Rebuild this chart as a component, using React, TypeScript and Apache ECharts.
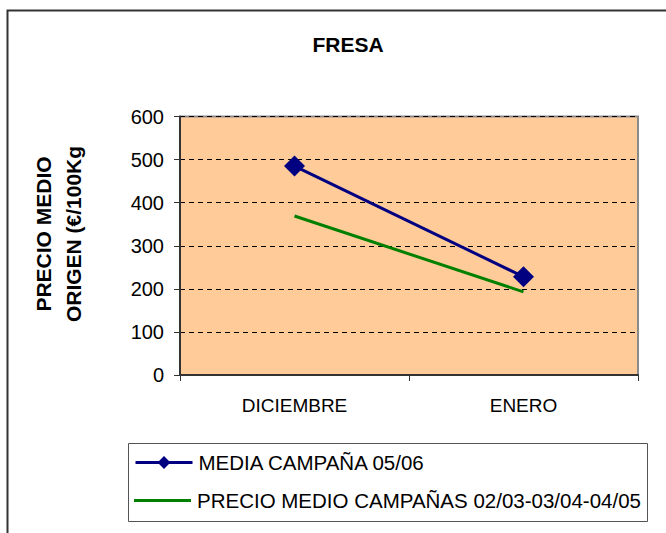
import React, { useEffect, useRef } from "react";
import * as echarts from "echarts";

const title = "FRESA";
const categories = ["DICIEMBRE", "ENERO"];
const mediaName = "MEDIA CAMPAÑA 05/06";
const mediaValues = [485, 228];
const precioName = "PRECIO MEDIO CAMPAÑAS 02/03-03/04-04/05";
const precioValues = [369, 193];
const yTicks = { min: 0, max: 600, interval: 100 };
const yAxisTitle = "PRECIO MEDIO\nORIGEN (€/100Kg";

export default function App() {
  const ref = useRef<HTMLDivElement>(null);
  useEffect(() => {
    if (!ref.current) return;
    const chart = echarts.init(ref.current, undefined, { renderer: "svg" });
    const font = "'Liberation Sans', Arial, sans-serif";
    chart.setOption({
      animation: false,
      backgroundColor: "#ffffff",
      textStyle: { fontFamily: font },
      title: {
        text: title,
        left: 343,
        top: 29,
        textAlign: "center",
        textStyle: { fontFamily: font, fontSize: 21, fontWeight: "bold", color: "#000" },
      },
      grid: { left: 180, top: 116.5, right: 28, bottom: 158, backgroundColor: "#FFCC99", show: true, borderColor: "#8a8a8a", borderWidth: 2 },
      xAxis: {
        type: "category",
        data: categories,
        boundaryGap: true,
        axisLine: { lineStyle: { color: "#333", width: 2 } },
        axisTick: { show: true, length: 6, lineStyle: { color: "#333", width: 1 } },
        axisLabel: { color: "#000", fontSize: 19, margin: 21, fontFamily: font },
        splitLine: { show: false },
      },
      yAxis: {
        type: "value",
        min: yTicks.min,
        max: yTicks.max,
        interval: yTicks.interval,
        axisLine: { show: true, lineStyle: { color: "#333", width: 2 } },
        axisTick: { show: true, length: 6, lineStyle: { color: "#333", width: 1 } },
        axisLabel: { color: "#000", fontSize: 20, margin: 16, fontFamily: font },
        splitLine: { show: true, lineStyle: { color: "#000", width: 1, type: [5, 4] } },
      },
      legend: [
        {
          data: [{ name: mediaName }],
          orient: "horizontal",
          left: 134,
          top: 452,
          padding: 0,
          itemWidth: 57,
          itemHeight: 16,
          itemGap: 0,
          lineStyle: { width: 3 },
          textStyle: { fontFamily: font, fontSize: 20.5, color: "#000", padding: [0, 0, 0, 1] },
        },
        {
          data: [{ name: precioName, icon: "rect" }],
          orient: "horizontal",
          left: 134,
          top: 490,
          padding: 0,
          itemWidth: 57,
          itemHeight: 3,
          itemGap: 0,
          textStyle: { fontFamily: font, fontSize: 20.5, color: "#000", padding: [0, 0, 0, 1] },
        },
      ],
      graphic: [
        {
          type: "rect",
          shape: { x: 7.5, y: 10.5, width: 700, height: 600 },
          style: { fill: "none", stroke: "#333", lineWidth: 2 },
          silent: true,
        },
        {
          type: "rect",
          shape: { x: 128.5, y: 443.5, width: 519, height: 78 },
          style: { fill: "none", stroke: "#555", lineWidth: 1 },
          silent: true,
        },
        {
          type: "text",
          x: 58,
          y: 234,
          rotation: Math.PI / 2,
          style: {
            text: yAxisTitle,
            fontFamily: font,
            fontSize: 21,
            fontWeight: "bold",
            lineHeight: 30,
            fill: "#000",
            align: "center",
            verticalAlign: "middle",
          },
          silent: true,
        },
      ],
      series: [
        {
          name: mediaName,
          type: "line",
          data: mediaValues,
          symbol: "diamond",
          symbolSize: 21,
          lineStyle: { color: "#000080", width: 3 },
          itemStyle: { color: "#000080" },
          z: 3,
        },
        {
          name: precioName,
          type: "line",
          data: precioValues,
          symbol: "none",
          lineStyle: { color: "#008000", width: 3 },
          itemStyle: { color: "#008000" },
          z: 2,
        },
      ],
    });
    return () => chart.dispose();
  }, []);
  return (
    <div
      ref={ref}
      style={{ position: "fixed", left: 0, top: 0, width: 666, height: 533 }}
    />
  );
}
